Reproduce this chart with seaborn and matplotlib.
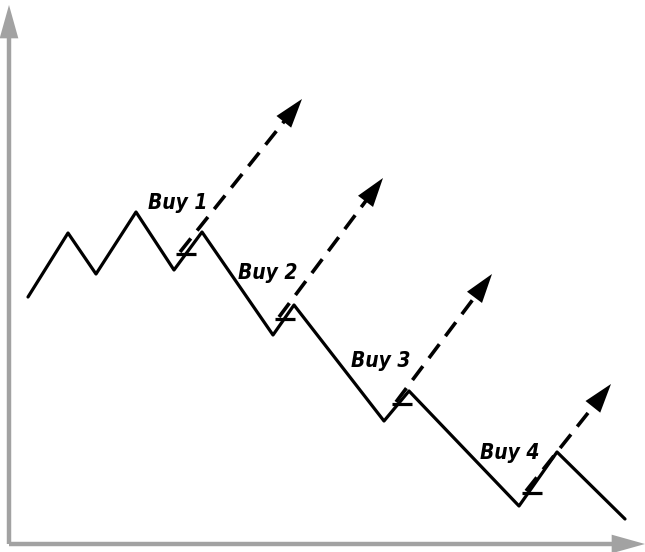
import numpy as np
import pandas as pd
import seaborn as sns
import matplotlib.pyplot as plt

# Price path (schematic, screen-like coordinates: y grows downward)
zig_x = [28, 68, 96, 136, 174, 202, 273, 294, 384, 409, 519, 557, 625]
zig_y = [297, 233, 274, 212, 270, 232, 335, 305, 421, 391, 506, 452, 519]

# Buy points (start of dashed arrows) and arrow tips
buy_labels = ['Buy 1', 'Buy 2', 'Buy 3', 'Buy 4']
buy_x = [180, 279, 396, 526]
buy_y = [252, 317, 402, 491]
tip_x = [302, 383, 492, 611]
tip_y = [99, 178, 274, 384]
label_x = [178, 268, 381, 510]
label_y = [203, 273, 361, 453]

sns.set_style('white')

fig = plt.figure(figsize=(6.45, 5.52), dpi=100)
ax = fig.add_axes([0, 0, 1, 1])
ax.set_xlim(0, 645)
ax.set_ylim(552, 0)
ax.axis('off')

gray = '#a2a2a2'
# axes arrows
ax.plot([9, 9], [544, 30], color=gray, lw=3.2, solid_capstyle='butt')
ax.plot([9, 620], [544, 544], color=gray, lw=3.2, solid_capstyle='butt')
ax.annotate('', xy=(9, 5), xytext=(9, 8),
            arrowprops=dict(arrowstyle='-|>,head_length=1.5,head_width=0.42',
                            mutation_scale=16, color=gray, lw=0, shrinkA=0, shrinkB=0))
ax.annotate('', xy=(645, 544), xytext=(642, 544),
            arrowprops=dict(arrowstyle='-|>,head_length=1.5,head_width=0.42',
                            mutation_scale=16, color=gray, lw=0, shrinkA=0, shrinkB=0))

# zigzag price line
df = pd.DataFrame({'x': zig_x, 'y': zig_y})
sns.lineplot(data=df, x='x', y='y', sort=False, color='black', lw=2.3, ax=ax)

for lab, bx, by, tx, ty, lx, ly in zip(buy_labels, buy_x, buy_y, tip_x, tip_y,
                                        label_x, label_y):
    d = np.array([tx - bx, ty - by], dtype=float)
    d /= np.hypot(*d)
    end = np.array([tx, ty]) - d * 10
    ax.plot([bx, end[0]], [by, end[1]], color='black', lw=2.6,
            dashes=(4.8, 2.8), solid_capstyle='butt')
    back = np.array([tx, ty]) - d * 2
    ax.annotate('', xy=(tx, ty), xytext=tuple(back),
                arrowprops=dict(arrowstyle='-|>,head_length=1.4,head_width=0.45',
                                mutation_scale=15, color='black', lw=0,
                                shrinkA=0, shrinkB=0))
    # small horizontal tick at buy point
    ax.plot([bx - 4, bx + 16], [by + 2, by + 2], color='black', lw=2.3,
            solid_capstyle='butt')
    ax.text(lx, ly, lab, ha='center', va='center', fontsize=15, color='black',
            fontweight='heavy', fontstyle='italic', fontstretch='condensed',
            family=['DejaVu Sans'])

fig.savefig('out.png', dpi=100)
